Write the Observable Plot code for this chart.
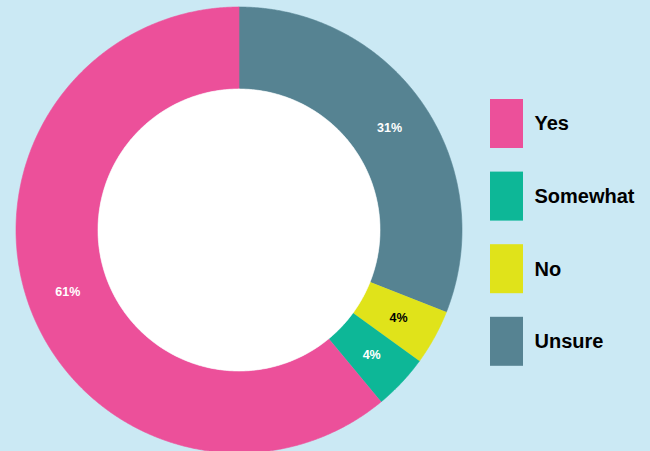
<!DOCTYPE html>
<html>
<head>
<meta charset="utf-8">
<script src="https://cdn.jsdelivr.net/npm/d3@7"></script>
<script src="https://cdn.jsdelivr.net/npm/@observablehq/plot@0.6"></script>
<style>
  html, body { margin: 0; padding: 0; background: #cbe9f4; overflow: hidden; }
  #chart svg { display: block; }
</style>
</head>
<body>
<div id="chart"></div>
<script>
// ---- data ----
const categories = ["Yes", "Somewhat", "No", "Unsure"];          // legend order
const values = [61, 4, 4, 31];                                      // percent
const colors = ["#ec509a", "#0db797", "#e0e31a", "#568392"];
const darkLabel = ["No"];                                           // labels drawn in black
const clockwiseOrder = ["Unsure", "No", "Somewhat", "Yes"];         // from 12 o'clock

// ---- layout ----
const W = 650, H = 451;
const CX = 238.5, CY = 229.5, R_OUT = 223, R_IN = 141;
const ux = px => (px - CX) / R_OUT;
const uy = py => (CY - py) / R_OUT;
const k = R_IN / R_OUT;
const kLabel = (R_IN + R_OUT) / 2 / R_OUT;

const rows = clockwiseOrder.map(c => ({cat: c, value: values[categories.indexOf(c)]}));
const arcs = d3.pie().sort(null).value(d => d.value).startAngle(0).endAngle(2 * Math.PI)(rows);

const poly = [];
arcs.forEach(a => {
  const n = Math.max(4, Math.ceil((a.endAngle - a.startAngle) / 0.005));
  for (let i = 0; i <= n; i++) {
    const t = a.startAngle + (a.endAngle - a.startAngle) * i / n;
    poly.push({cat: a.data.cat, x: Math.sin(t), y: Math.cos(t)});
  }
  for (let i = n; i >= 0; i--) {
    const t = a.startAngle + (a.endAngle - a.startAngle) * i / n;
    poly.push({cat: a.data.cat, x: k * Math.sin(t), y: k * Math.cos(t)});
  }
});

const hole = d3.range(0, 721).map(i => {
  const t = i / 720 * 2 * Math.PI;
  return {x: k * Math.sin(t), y: k * Math.cos(t)};
});

const labels = arcs.map(a => {
  const t = (a.startAngle + a.endAngle) / 2;
  return {cat: a.data.cat, text: a.data.value + "%", x: kLabel * Math.sin(t), y: kLabel * Math.cos(t)};
});

const LEG_X0 = 490, LEG_X1 = 523, LEG_Y0 = 99, LEG_STEP = 72.6, LEG_H = 49, LEG_TX = 534;
const legend = categories.map((c, i) => ({
  cat: c,
  x1: ux(LEG_X0), x2: ux(LEG_X1),
  y1: uy(LEG_Y0 + i * LEG_STEP), y2: uy(LEG_Y0 + i * LEG_STEP + LEG_H),
  tx: ux(LEG_TX), ty: uy(LEG_Y0 + i * LEG_STEP + LEG_H / 2)
}));

const chart = Plot.plot({
  width: W,
  height: H,
  margin: 0,
  x: {domain: [-1, 1], range: [CX - R_OUT, CX + R_OUT], axis: null},
  y: {domain: [-1, 1], range: [CY + R_OUT, CY - R_OUT], axis: null},
  color: {domain: categories, range: colors},
  style: {background: "#cbe9f4", fontFamily: "'Liberation Sans', Arial, sans-serif", overflow: "hidden"},
  marks: [
    Plot.line(poly, {x: "x", y: "y", z: "cat", fill: "cat", stroke: "cat", strokeWidth: 0.6, curve: "linear"}),
    Plot.line(hole, {x: "x", y: "y", fill: "white", stroke: "white", strokeWidth: 0.6}),
    Plot.text(labels.filter(d => !darkLabel.includes(d.cat)), {
      x: "x", y: "y", text: "text", fill: "white", fontSize: 12.5, fontWeight: "bold", ariaLabel: "pct-labels"
    }),
    Plot.text(labels.filter(d => darkLabel.includes(d.cat)), {
      x: "x", y: "y", text: "text", fill: "black", fontSize: 12.5, fontWeight: "bold", ariaLabel: "pct-labels"
    }),
    Plot.rect(legend, {x1: "x1", x2: "x2", y1: "y1", y2: "y2", fill: "cat"}),
    Plot.text(legend, {
      x: "tx", y: "ty", text: "cat", textAnchor: "start", fill: "black",
      fontSize: 20, fontWeight: "bold", ariaLabel: "legend-text"
    })
  ]
});

// smaller percent sign inside the slice labels
chart.querySelectorAll('g[aria-label="pct-labels"] text').forEach(t => {
  const s = t.textContent;
  if (s.endsWith("%")) {
    t.textContent = s.slice(0, -1);
    const sp = document.createElementNS("http://www.w3.org/2000/svg", "tspan");
    sp.setAttribute("font-size", "8");
    sp.textContent = "%";
    t.appendChild(sp);
    t.setAttribute("letter-spacing", "-0.5");
  }
});
chart.querySelectorAll('g[aria-label="legend-text"] text').forEach(t => {
  t.setAttribute("letter-spacing", "-0.9");
});

document.getElementById("chart").appendChild(chart);
</script>
</body>
</html>
